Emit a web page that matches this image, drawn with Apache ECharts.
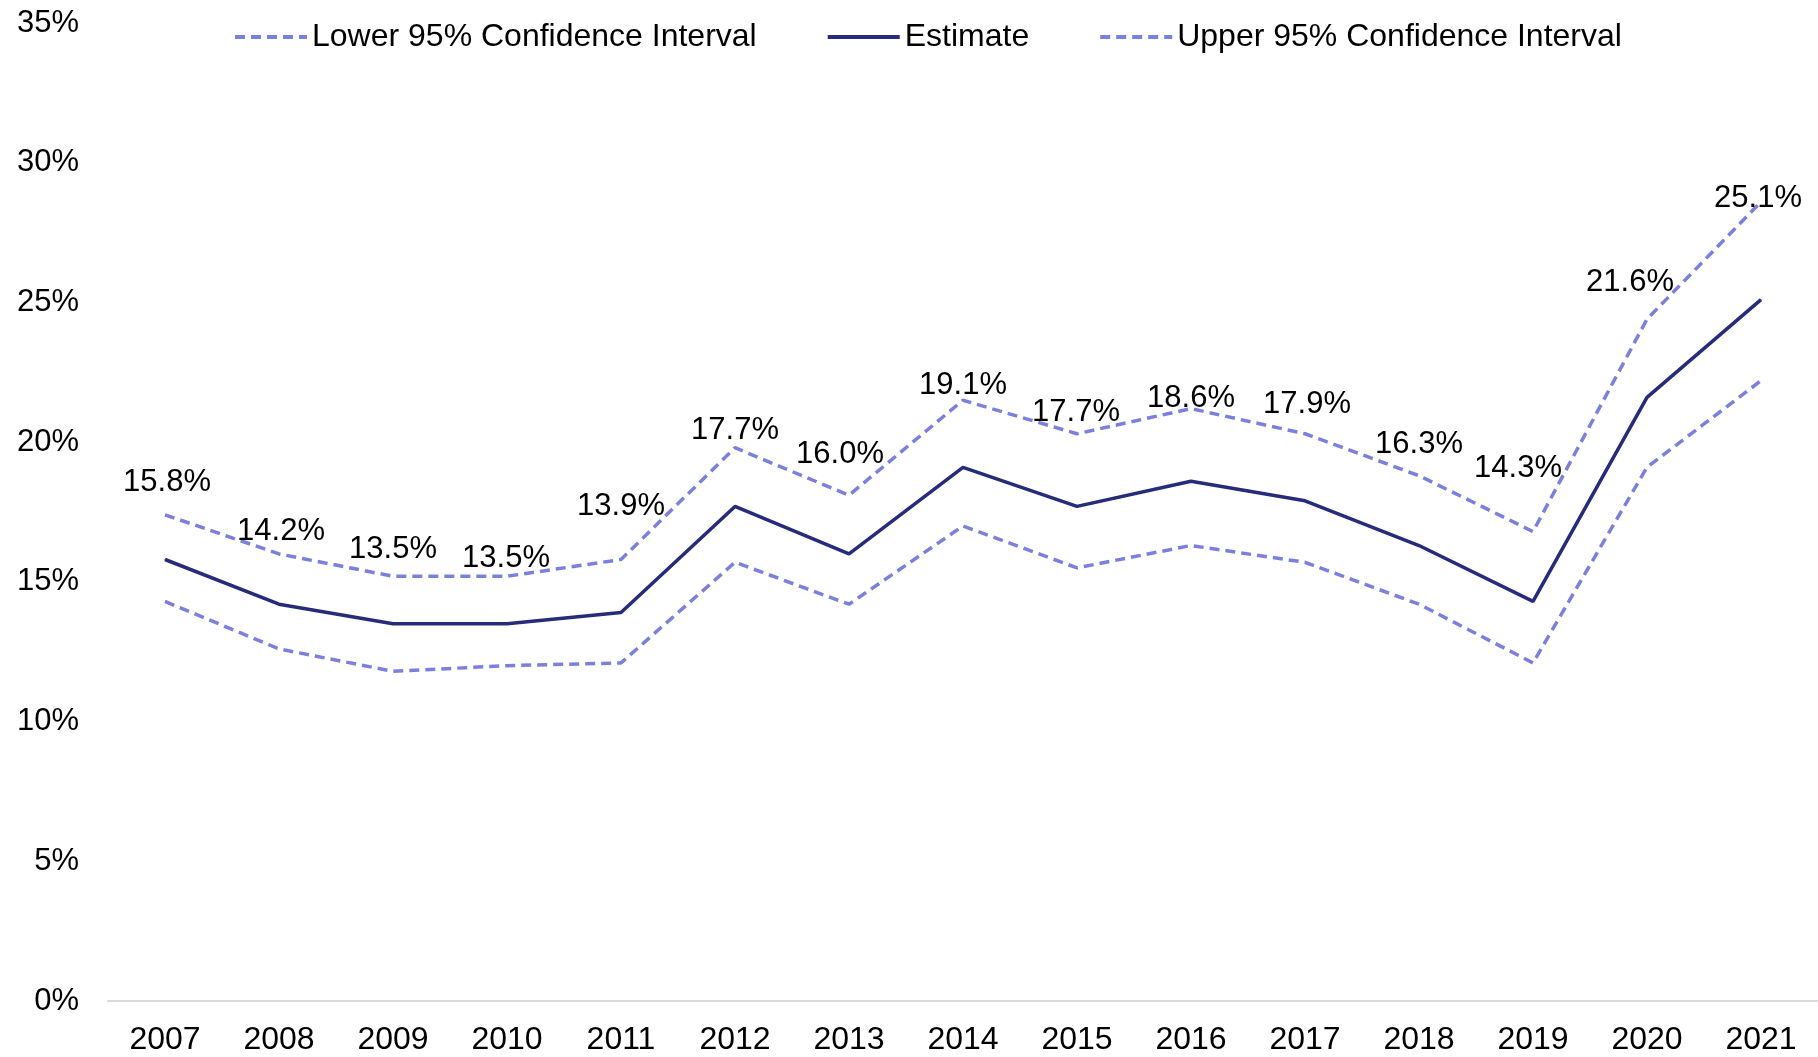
<!DOCTYPE html>
<html>
<head>
<meta charset="utf-8">
<script src="https://cdn.jsdelivr.net/npm/echarts@6/dist/echarts.min.js"></script>
<style>
  html, body { margin: 0; padding: 0; background: #ffffff; }
  #chart { width: 1818px; height: 1057px; }
</style>
</head>
<body>
<div id="chart"></div>
<script>
// Survey years
const years = ['2007','2008','2009','2010','2011','2012','2013','2014','2015','2016','2017','2018','2019','2020','2021'];

// Point estimate (%)
const estimate = [15.8, 14.2, 13.5, 13.5, 13.9, 17.7, 16.0, 19.1, 17.7, 18.6, 17.9, 16.3, 14.3, 21.6, 25.1];

// 95% confidence bounds (%)
const lowerCI = [14.3, 12.6, 11.8, 12.0, 12.1, 15.7, 14.2, 17.0, 15.5, 16.3, 15.7, 14.2, 12.1, 19.1, 22.2];
const upperCI = [17.4, 16.0, 15.2, 15.2, 15.8, 19.8, 18.1, 21.5, 20.3, 21.2, 20.3, 18.8, 16.8, 24.4, 28.6];

// Y-axis range and step (%)
const yMin = 0, yMax = 35, yStep = 5;

// Label placement relative to each estimate point, in pixels (layout only)
const labelLift  = [77, 73, 74, 65, 106, 76, 99, 82, 94, 83, 96, 101, 133, 115, 101];
const labelShift = [2, 2, 0, -1, 0, 0, -9, 0, -1, 0, 2, 0, -15, -17, -3];

const FONT = '"Liberation Sans", Arial, sans-serif';
const NAVY = '#262b7a';
const CI_BLUE = '#7a80dc';

const chart = echarts.init(document.getElementById('chart'), null, { renderer: 'canvas' });

const dashed = { color: CI_BLUE, width: 3.5, type: [10, 6] };

chart.setOption({
  animation: false,
  backgroundColor: '#ffffff',
  textStyle: { fontFamily: FONT, color: '#000' },
  legend: {
    top: 16,
    left: 228,
    itemWidth: 72,
    itemHeight: 14,
    itemGap: 69,
    itemStyle: { opacity: 0 },
    lineStyle: { width: 4 },
    textStyle: { fontFamily: FONT, fontSize: 32, color: '#000' },
    data: ['Lower 95% Confidence Interval', 'Estimate', 'Upper 95% Confidence Interval']
  },
  grid: { left: 108, right: 0, top: 23, bottom: 56, containLabel: false },
  xAxis: {
    type: 'category',
    data: years,
    boundaryGap: true,
    axisLine: { lineStyle: { color: '#d9d9d9', width: 2 } },
    axisTick: { show: false },
    axisLabel: { fontFamily: FONT, fontSize: 32, color: '#000', margin: 23 }
  },
  yAxis: {
    type: 'value',
    min: yMin,
    max: yMax,
    interval: yStep,
    axisLine: { show: false },
    axisTick: { show: false },
    splitLine: { show: false },
    axisLabel: {
      fontFamily: FONT, fontSize: 31, color: '#000', margin: 29,
      padding: [9, 0, 0, 0],
      formatter: '{value}%'
    }
  },
  series: [
    {
      name: 'Lower 95% Confidence Interval',
      type: 'line',
      data: lowerCI,
      symbol: 'none',
      lineStyle: dashed,
      itemStyle: { color: CI_BLUE },
      z: 2
    },
    {
      name: 'Estimate',
      type: 'line',
      symbol: 'circle',
      symbolSize: 1,
      showSymbol: true,
      lineStyle: { color: NAVY, width: 3.5 },
      itemStyle: { color: NAVY },
      data: estimate.map((v, i) => ({
        value: v,
        label: { offset: [labelShift[i], -labelLift[i]] }
      })),
      label: {
        show: true,
        position: 'inside',
        fontFamily: FONT,
        fontSize: 31,
        color: '#000',
        formatter: p => p.value.toFixed(1) + '%'
      },
      z: 3
    },
    {
      name: 'Upper 95% Confidence Interval',
      type: 'line',
      data: upperCI,
      symbol: 'none',
      lineStyle: dashed,
      itemStyle: { color: CI_BLUE },
      z: 2
    }
  ]
});
</script>
</body>
</html>
